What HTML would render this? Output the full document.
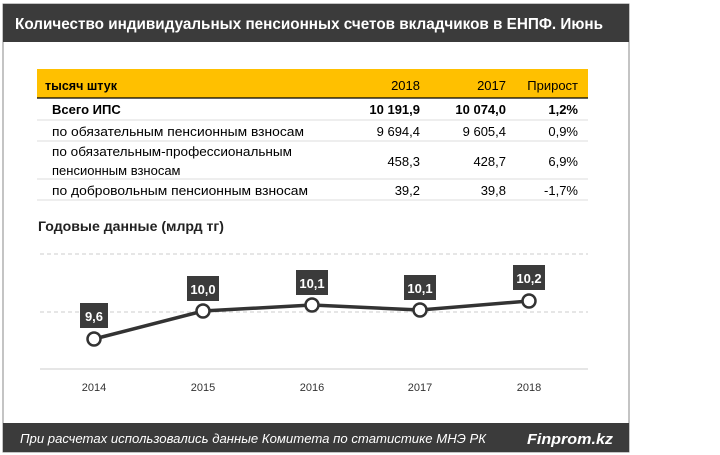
<!DOCTYPE html>
<html><head><meta charset="utf-8"><style>
html,body{margin:0;padding:0;background:#fff;}
svg{display:block;font-family:"Liberation Sans",sans-serif;}
</style></head><body>
<svg width="720" height="455" viewBox="0 0 720 455">
<rect x="3" y="4" width="626" height="448" fill="#fff" stroke="#888" stroke-width="1"/>
<rect x="3" y="4" width="626" height="38" fill="#3b3b3b"/>
<text x="15" y="29" fill="#fff" font-size="16" font-weight="bold" textLength="588" lengthAdjust="spacingAndGlyphs">Количество индивидуальных пенсионных счетов вкладчиков в ЕНПФ. Июнь</text>
<rect x="37" y="69" width="551" height="29" fill="#ffc000"/>
<line x1="37" y1="98" x2="588" y2="98" stroke="#000" stroke-width="1.2"/>
<g font-size="13" fill="#000">
<text x="45" y="90" font-weight="bold" textLength="72" lengthAdjust="spacingAndGlyphs">тысяч штук</text>
<text x="420" y="90" text-anchor="end">2018</text>
<text x="506" y="90" text-anchor="end">2017</text>
<text x="578" y="90" text-anchor="end">Прирост</text>
<text x="52" y="114" font-weight="bold">Всего ИПС</text>
<text x="420" y="114" text-anchor="end" font-weight="bold">10 191,9</text>
<text x="506" y="114" text-anchor="end" font-weight="bold">10 074,0</text>
<text x="578" y="114" text-anchor="end" font-weight="bold">1,2%</text>
<text x="52" y="136" textLength="252" lengthAdjust="spacingAndGlyphs">по обязательным пенсионным взносам</text>
<text x="420" y="136" text-anchor="end">9 694,4</text>
<text x="506" y="136" text-anchor="end">9 605,4</text>
<text x="578" y="136" text-anchor="end">0,9%</text>
<text x="52" y="156" textLength="240" lengthAdjust="spacingAndGlyphs">по обязательным-профессиональным</text>
<text x="52" y="175">пенсионным взносам</text>
<text x="420" y="166" text-anchor="end">458,3</text>
<text x="506" y="166" text-anchor="end">428,7</text>
<text x="578" y="166" text-anchor="end">6,9%</text>
<text x="52" y="195" textLength="256" lengthAdjust="spacingAndGlyphs">по добровольным пенсионным взносам</text>
<text x="420" y="195" text-anchor="end">39,2</text>
<text x="506" y="195" text-anchor="end">39,8</text>
<text x="578" y="195" text-anchor="end">-1,7%</text>
</g>
<g stroke="#ddd" stroke-width="1">
<line x1="37" y1="120" x2="588" y2="120"/><line x1="37" y1="141" x2="588" y2="141"/>
<line x1="37" y1="179" x2="588" y2="179"/><line x1="37" y1="200" x2="588" y2="200"/>
</g>
<text x="38" y="231" font-size="14" font-weight="bold" fill="#222" textLength="186" lengthAdjust="spacingAndGlyphs">Годовые данные (млрд тг)</text>
<g stroke="#ccc" stroke-width="1" stroke-dasharray="4,3">
<line x1="40" y1="254" x2="588" y2="254"/><line x1="40" y1="312" x2="588" y2="312"/>
</g>
<line x1="40" y1="369" x2="588" y2="369" stroke="#ddd" stroke-width="1.5"/>
<polyline points="94,339 203,311 312,305 420,310 529,301" fill="none" stroke="#333" stroke-width="3.5"/>
<g fill="#fff" stroke="#333" stroke-width="2.5">
<circle cx="94" cy="339" r="6.5"/><circle cx="203" cy="311" r="6.5"/><circle cx="312" cy="305" r="6.5"/><circle cx="420" cy="310" r="6.5"/><circle cx="529" cy="301" r="6.5"/>
</g>
<g fill="#3b3b3b">
<rect x="80" y="303" width="28" height="25"/><rect x="187" y="276" width="32" height="25"/>
<rect x="296" y="270" width="32" height="25"/><rect x="404" y="275" width="32" height="25"/><rect x="513" y="265" width="32" height="25"/>
</g>
<g fill="#fff" font-size="13" font-weight="bold" text-anchor="middle">
<text x="94" y="321">9,6</text><text x="203" y="294">10,0</text><text x="312" y="288">10,1</text><text x="420" y="293">10,1</text><text x="529" y="283">10,2</text>
</g>
<g fill="#333" font-size="11" text-anchor="middle">
<text x="94" y="391">2014</text><text x="203" y="391">2015</text><text x="312" y="391">2016</text><text x="420" y="391">2017</text><text x="529" y="391">2018</text>
</g>
<rect x="3" y="423" width="626" height="29" fill="#3b3b3b"/>
<text x="20" y="443" fill="#fff" font-size="13" font-style="italic" textLength="466" lengthAdjust="spacingAndGlyphs">При расчетах использовались данные  Комитета по статистике МНЭ РК</text>
<text x="527" y="444" fill="#fff" font-size="15" font-weight="bold" font-style="italic" textLength="86" lengthAdjust="spacingAndGlyphs">Finprom.kz</text>
</svg>
</body></html>
